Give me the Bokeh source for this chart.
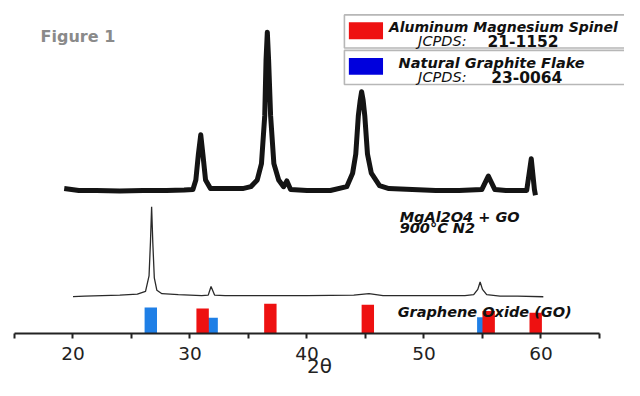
from bokeh.plotting import figure
from bokeh.models import Range1d, FixedTicker, Label, BoxAnnotation
from bokeh.embed import file_html
from bokeh.resources import INLINE

# ---- data (2θ in degrees, intensity in arbitrary units, traces stacked) ----
mgal_2theta = [19.25, 20.5, 22.0, 24.0, 26.0, 28.0, 29.5, 30.25, 30.5, 30.72, 30.92, 31.1, 31.33,
               31.75, 33.0, 34.5, 35.2, 35.75, 36.11, 36.39, 36.5, 36.61, 36.72, 36.89, 37.17,
               37.58, 38.0, 38.28, 38.6, 40.0, 42.0, 43.4, 43.9, 44.17, 44.39, 44.55, 44.67,
               44.8, 44.94, 45.17, 45.5, 46.2, 47.0, 49.0, 51.0, 53.0, 54.94, 55.5, 56.06,
               57.0, 58.78, 59.17, 59.44, 59.53]
mgal_intensity = [151, 149, 149, 148.5, 149, 149, 149.5, 150, 160, 187, 207, 187, 160,
                  151, 151, 151, 153, 160, 177, 227, 285, 314, 285, 227, 177,
                  160, 153, 159, 150, 149, 149, 153, 167, 187, 227, 243, 252,
                  243, 227, 187, 167, 154, 151, 150, 149, 149, 150, 164, 150,
                  149, 149, 182, 150, 144]

go_2theta = [20.0, 21.0, 22.5, 24.0, 25.5, 26.2, 26.5, 26.62, 26.72, 26.82, 26.95, 27.17, 27.6,
             29.0, 31.0, 31.56, 31.8, 32.1, 33.0, 36.0, 40.0, 44.0, 45.3, 46.5, 50.0, 53.5,
             54.25, 54.6, 54.8, 55.0, 55.36, 56.5, 58.0, 60.2]
go_intensity = [38.5, 39, 39.5, 40, 41, 44, 60, 95, 132, 95, 58, 45, 41.5,
                40.5, 39.5, 40, 49, 40, 39.5, 39.5, 39.5, 40, 41.5, 39.5, 39.5, 39.5,
                40.5, 46, 53.7, 46, 40.5, 39, 39, 38.3]

spinel_2theta = [31.08, 36.87, 45.2, 55.53, 59.55]          # JCPDS 21-1152
spinel_intensity = [26, 31, 30, 23.5, 21.5]
graphite_2theta = [26.65, 31.85, 55.07]                      # JCPDS 23-0064
graphite_intensity = [27, 16.5, 17]

x_ticks = [20, 30, 40, 50, 60]
x_minor_ticks = [15, 25, 35, 45, 55, 65]

FONT = "DejaVu Sans"
RED = "#ee1111"
BLUE_BAR = "#1f7fe6"
BLUE_LEG = "#0000dd"

p = figure(width=624, height=380, x_range=Range1d(15, 67.14), y_range=Range1d(0, 347),
           output_backend="svg", toolbar_location=None, y_axis_location=None,
           min_border_left=14, min_border_right=0, min_border_top=0, min_border_bottom=47)
p.outline_line_color = None
p.xgrid.visible = False
p.ygrid.visible = False

ax = p.xaxis[0]
ax.ticker = FixedTicker(ticks=x_ticks, minor_ticks=x_minor_ticks)
ax.bounds = (15, 65)
ax.axis_line_width = 2
ax.axis_line_color = "#222222"
ax.major_tick_in = 0
ax.major_tick_out = 5
ax.major_tick_line_width = 2
ax.major_tick_line_color = "#222222"
ax.minor_tick_in = 0
ax.minor_tick_out = 5
ax.minor_tick_line_width = 2
ax.minor_tick_line_color = "#222222"
ax.major_label_text_font = FONT
ax.major_label_text_font_size = "18.5px"
ax.major_label_text_color = "#222222"
ax.major_label_standoff = 8
ax.axis_label = "2θ"
ax.axis_label_text_font = FONT
ax.axis_label_text_font_size = "20px"
ax.axis_label_text_font_style = "normal"
ax.axis_label_text_color = "#222222"
ax.axis_label_standoff = -9

# traces
p.line(mgal_2theta, mgal_intensity, line_color="#141414", line_width=5, line_join="round")
p.line(go_2theta, go_intensity, line_color="#2a2a2a", line_width=1.3)

# reference patterns
p.vbar(x=graphite_2theta, top=graphite_intensity, bottom=0, width=1.06,
       fill_color=BLUE_BAR, line_color=None)
p.vbar(x=spinel_2theta, top=spinel_intensity, bottom=0, width=1.06,
       fill_color=RED, line_color=None)

def lab(x, y, t, size="14.5px", style="bold italic", color="#111111", align="left", font=FONT):
    p.add_layout(Label(x=x, y=y, text=t, text_font=font, text_font_size=size,
                       text_font_style=style, text_color=color, text_align=align,
                       text_baseline="alphabetic"))

# legend boxes
p.add_layout(BoxAnnotation(left=43.2, right=70, top=332, bottom=297.5, fill_color="white",
                           fill_alpha=1, line_color="#111111", line_width=1.6))
p.add_layout(BoxAnnotation(left=43.2, right=70, top=295, bottom=259.5, fill_color="white",
                           fill_alpha=1, line_color="#111111", line_width=1.6))
p.add_layout(BoxAnnotation(left=43.58, right=46.5, top=324.3, bottom=306.7, fill_color=RED,
                           fill_alpha=1, line_color=None))
p.add_layout(BoxAnnotation(left=43.58, right=46.5, top=287, bottom=269.5, fill_color=BLUE_LEG,
                           fill_alpha=1, line_color=None))

lab(47.0, 319.5, "Aluminum Magnesium Spinel", size="14px")
lab(49.5, 305, "JCPDS:", style="italic")
lab(55.42, 305, "21-1152", size="15.5px", style="bold")
lab(47.83, 281.5, "Natural Graphite Flake")
lab(49.5, 267, "JCPDS:", style="italic")
lab(55.75, 267, "23-0064", size="15.5px", style="bold")

lab(17.23, 310, "Figure 1", size="16px", style="bold", color="#8a8a8a")
lab(47.92, 121.5, "MgAl2O4 + GO")
lab(47.92, 109.5, "900°C N2")
lab(47.75, 22.5, "Graphene Oxide (GO)")

open("out.html", "w").write(file_html(p, INLINE))
